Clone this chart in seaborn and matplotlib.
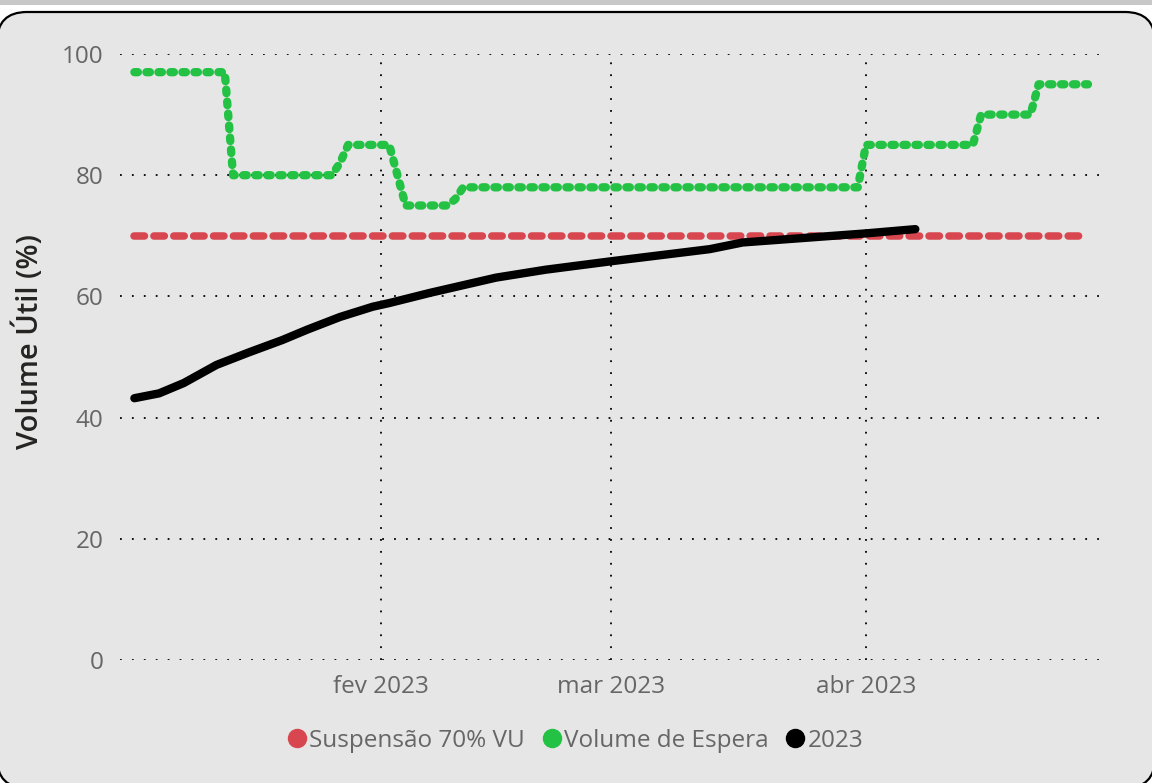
import pandas as pd
import seaborn as sns
import matplotlib.pyplot as plt
from matplotlib.lines import Line2D
from matplotlib.patches import FancyBboxPatch, Rectangle
from matplotlib.transforms import IdentityTransform

# Volume Útil (%) - 2023
black_dates = ["2023-01-02", "2023-01-05", "2023-01-08", "2023-01-12", "2023-01-16",
               "2023-01-20", "2023-01-23", "2023-01-27", "2023-01-31", "2023-02-02",
               "2023-02-07", "2023-02-15", "2023-02-21", "2023-03-01", "2023-03-13",
               "2023-03-17", "2023-03-24", "2023-04-01", "2023-04-07"]
black_values = [43.2, 44.0, 45.7, 48.7, 50.8, 52.8, 54.5, 56.6, 58.3, 58.9,
                60.6, 63.1, 64.4, 65.8, 67.8, 68.9, 69.6, 70.4, 71.1]

# Volume de Espera
green_dates = ["2023-01-02", "2023-01-13", "2023-01-14", "2023-01-26", "2023-01-27",
               "2023-01-28", "2023-02-02", "2023-02-03", "2023-02-04", "2023-02-09",
               "2023-02-10", "2023-02-11", "2023-03-31", "2023-04-01", "2023-04-14",
               "2023-04-15", "2023-04-21", "2023-04-22", "2023-04-28"]
green_values = [97, 97, 80, 80, 82, 85, 85, 80, 75, 75,
                76, 78, 78, 85, 85, 90, 90, 95, 95]

# Suspensão 70% VU
red_dates = ["2023-01-02", "2023-04-28"]
red_values = [70, 70]

tick_dates = ["2023-02-01", "2023-03-01", "2023-04-01"]
tick_labels = ["fev 2023", "mar 2023", "abr 2023"]
y_ticks = [0, 20, 40, 60, 80, 100]

legend_labels = ["Suspensão 70% VU", "Volume de Espera", "2023"]
RED = "#d8474f"
GREEN = "#24c244"
BLACK = "#000000"


def main():

    sns.set_theme(style="white")
    plt.rcParams["font.family"] = ["Open Sans", "DejaVu Sans"]

    red_df = pd.DataFrame({"data": pd.to_datetime(red_dates), "valor": red_values})
    green_df = pd.DataFrame({"data": pd.to_datetime(green_dates), "valor": green_values})
    black_df = pd.DataFrame({"data": pd.to_datetime(black_dates), "valor": black_values})

    fig = plt.figure(figsize=(11.52, 7.83), dpi=100)
    fig.patch.set_facecolor("white")

    # card background like the dashboard tile
    fig.patches.append(Rectangle((0, 778), 1152, 5, transform=IdentityTransform(),
                                 facecolor="#c8c8c8", edgecolor="none", zorder=-10))
    fig.patches.append(FancyBboxPatch((-3, -5), 1158, 776,
                                      boxstyle="round,pad=0,rounding_size=30",
                                      transform=IdentityTransform(),
                                      facecolor="#e6e6e6", edgecolor="black",
                                      linewidth=1.6, zorder=-10))

    ax = fig.add_axes([120 / 1152, 1 - 660 / 783, 988 / 1152, 606 / 783])
    ax.set_facecolor("none")

    sns.lineplot(red_df, x="data", y="valor", ax=ax, color=RED, linewidth=5.4,
                 linestyle=(0, (1.4, 1.25)), dash_capstyle="round")
    sns.lineplot(green_df, x="data", y="valor", ax=ax, color=GREEN, linewidth=6,
                 linestyle=(0, (0.42, 1.02)), dash_capstyle="round")
    sns.lineplot(black_df, x="data", y="valor", ax=ax, color=BLACK, linewidth=6,
                 solid_capstyle="round", solid_joinstyle="round")

    ax.set_xlim(pd.Timestamp("2022-12-31 06:00"), pd.Timestamp("2023-04-30 10:30"))
    ax.set_ylim(0, 100)
    ax.set_xticks(pd.to_datetime(tick_dates))
    ax.set_xticklabels(tick_labels)
    ax.set_yticks(y_ticks)
    ax.tick_params(axis="both", length=0, labelsize=17.5, labelcolor="#666666")
    ax.tick_params(axis="x", pad=11)
    ax.tick_params(axis="y", pad=12)

    ax.grid(True, color="black", linestyle=(0, (1, 5.6)), linewidth=1.3)
    for spine in ax.spines.values():
        spine.set_visible(False)

    ax.set_xlabel("")
    ax.set_ylabel("Volume Útil (%)", fontsize=21, color="#252423", fontweight="semibold")
    ax.yaxis.set_label_coords(-0.076, 0.525)

    handles = [Line2D([], [], marker="o", linestyle="none", markersize=13,
                      markerfacecolor=c, markeredgecolor=c) for c in (RED, GREEN, BLACK)]
    fig.legend(handles, legend_labels, loc="center", bbox_to_anchor=(574 / 1152, 1 - 741 / 783),
               ncol=3, frameon=False, fontsize=17.5, labelcolor="#666666",
               handletextpad=0.0, columnspacing=0.6, handlelength=1.0)

    fig.savefig("out.png", dpi=100)


if __name__ == "__main__":
    main()
